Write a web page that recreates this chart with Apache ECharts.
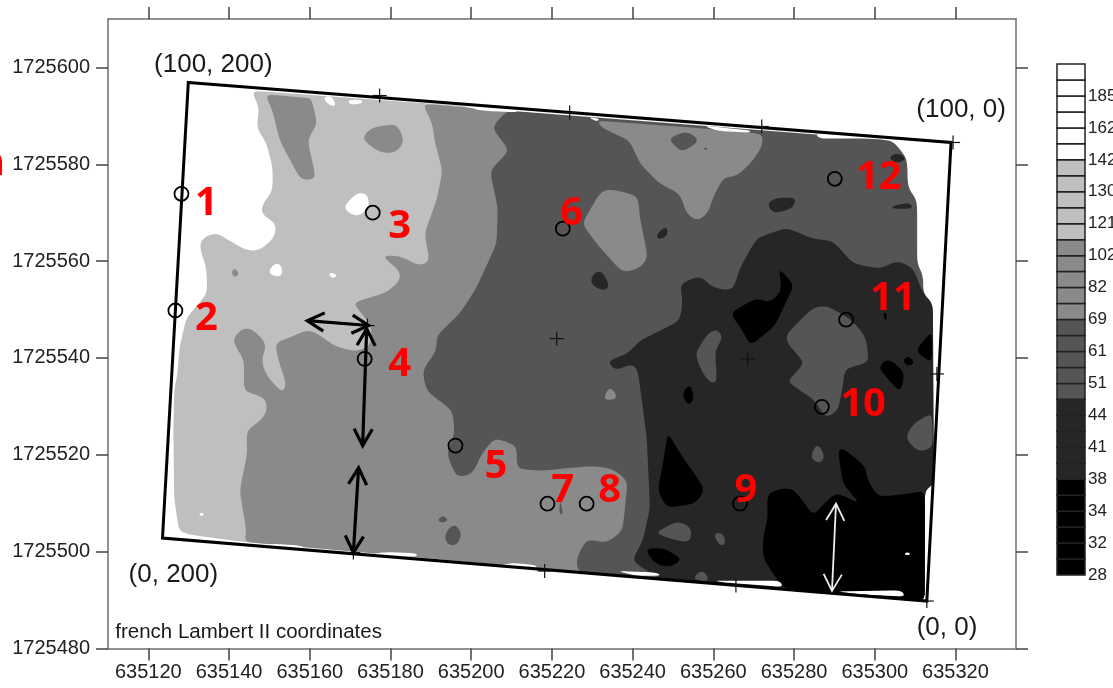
<!DOCTYPE html>
<html><head><meta charset="utf-8">
<style>html,body{margin:0;padding:0;background:#fff;overflow:hidden}#c{width:1113px;height:688px}</style>
<script src="https://cdn.jsdelivr.net/npm/echarts@6/dist/echarts.min.js"></script>
</head><body><div id="c"></div>
<script>
// All point pairs are [easting - 635000, northing - 1725000], in metres (French Lambert II).
const E0 = 635000, N0 = 1725000;
const xTicks = [635120,635140,635160,635180,635200,635220,635240,635260,635280,635300,635320];
const yTicks = [1725480,1725500,1725520,1725540,1725560,1725580,1725600];
const WHITE='#ffffff', LIGHT='#bfbfbf', MID='#8a8a8a', DARK='#555555', DARKER='#262626', BLACK='#000000';

const lightZone=[[145.5,595.2],[147.5,591.7],[146.8,587.6],[149.3,584.3],[150.8,579.3],[150.8,574.5],[148.3,571.8],[148,569.8],[151.7,567.7],[151.2,564.8],[147.5,562.2],[144.3,562.2],[140.1,564.2],[136.9,565.9],[133.4,564.8],[132.7,562.8],[134.4,558.6],[134.6,553.3],[129.4,548.3],[127.7,542.1],[127.2,536.7],[126.4,533.2],[126.2,525],[126.4,511.1],[127.2,506.4],[127.7,504.3],[130.2,503.5],[143.8,502],[157.5,501],[157.5,531.2],[200,551.8],[200,591.9]];
const midZone=[[187.9,592.5],[190.4,588.4],[190.9,584.9],[192.9,578.7],[191.4,572.5],[188.4,565.7],[189.7,560.1],[187.2,559],[182.3,561.1],[177.8,561.1],[182.3,558],[182.3,555.9],[179,553.5],[170.6,551.4],[175.3,546.7],[175.1,542.5],[171.1,541.3],[166.1,542.5],[161.9,545],[159.4,545.8],[155,544.2],[151.3,543.1],[152.5,538.8],[154.2,534.7],[153.2,532.8],[149.3,536.3],[148,539.4],[149.3,542.9],[146.3,545.6],[144.3,546.2],[142.6,545.6],[140.8,543.6],[143.8,539.4],[143.6,533.2],[148.8,531.8],[149.5,529.5],[148.3,527.4],[144.3,525],[144.5,520.2],[142.6,512.6],[144.3,504.3],[143.8,502],[245,494.5],[245,588.5]];
const darkZone=[[208.8,591.1],[205.1,587.6],[209.5,582.8],[204.6,578.7],[206.6,571],[206.3,563.6],[201.3,554.5],[197.1,549.1],[191.4,544.6],[191.4,541.5],[187.9,537.4],[188.9,533.2],[195.4,529.1],[195.9,524.3],[193.9,520.2],[196.4,515.3],[200.4,516.1],[202.6,520.2],[205.8,523.5],[211.3,521.9],[211.3,517.1],[217.7,516.7],[221.9,517.1],[230.1,517.7],[235.1,517.1],[238.8,514.6],[237.5,504.3],[233.6,501.8],[228.6,502.6],[226.1,498.7],[226.4,495.8],[312.4,489.8],[312.4,512.6],[314.4,514],[314.4,551.2],[312,553.3],[312,557],[310.5,559.5],[310.5,572.5],[308.2,575.2],[308,581.2],[304.5,584.9]];
const darkerZone=[[251.7,555.3],[256.7,557],[259.9,554.5],[264.8,553.9],[266.6,558.6],[270.8,564.8],[278.2,566.9],[284.7,564.6],[289.6,564.2],[294.6,559.5],[301.3,558.4],[305.5,560.1],[309.5,558.6],[312,553.3],[314.4,551.2],[314.7,514],[312.4,512.6],[312.4,489.8],[246.7,494.4],[239.8,498.1],[242.5,502.2],[244.3,509],[243.5,523.5],[241.3,537.4],[239.8,538.8],[235.6,537.4],[233.8,539.4],[238.8,540.9],[241.8,543.6],[246.7,545.6],[251.7,547.7],[252.4,551.8]];
const blackZone=[[273.3,511.9],[276.5,513],[279.7,513],[282.2,510.5],[284.7,507.4],[288.1,510.5],[290.6,512.2],[296.3,509.9],[292.1,514],[290.9,520.8],[292.1,521.4],[297.6,517.7],[298.3,514.6],[300.8,511.3],[308.7,512],[312.4,512.6],[312.4,489.8],[277.2,492.5],[272.3,498.7],[272.3,502.8],[273.5,507]];

const midIslands=[
 [[231.1,589],[257.4,587.4],[272.3,586.3],[272,583.4],[269.1,580.1],[265.8,577.6],[262.4,577.2],[259.9,573.1],[258.6,569.8],[255.9,568.3],[253.4,569.8],[251.7,573.9],[246.7,576],[241.8,580.1],[239.3,584.9],[232.6,587.4]],
 [[227.4,567.7],[231.9,574.1],[234.3,574.9],[241.3,573.5],[241.8,569],[243.8,560.7],[241.8,558.6],[237.6,557.6],[231.9,562.8]],
 [[148.9,594.5],[159,593.7],[160.4,593.6],[161.9,588.4],[159.4,585],[161.6,577],[157.8,576.7],[152.5,585],[150.8,591]],
 [[172.8,585.3],[175.3,587.6],[181.5,588.4],[183.5,584.9],[181.5,582.4],[177.3,582.4]],
 [[140.6,557.6],[141.3,558.6],[142.6,557.4],[141.3,556.6]],
 [[234.3,534.3],[236.6,531.6],[232.6,531.2]]
];
const darkIslands=[
 [[248.7,585.3],[253.4,586.9],[256.7,584.9],[252.2,582.4]],
 [[257.6,583.4],[258.6,583.4],[258.1,582.8]],
 [[278.2,545],[284.7,550.4],[288.1,550.8],[293.9,548.1],[297.6,544.6],[298.3,541.5],[298.3,539],[292.6,537.8],[292.1,534.3],[290.9,529.1],[287.7,527.6],[285.2,531.2],[279.7,534.3],[278.5,535.3],[282.7,539],[278.2,543.1]],
 [[255.4,540.9],[258.6,545],[260.9,546],[262.4,544.2],[260.4,541.5],[260.9,535.3],[259.6,534.7],[257.4,536.7]],
 [[307.5,523.5],[309.5,526.4],[314.2,528.7],[314.4,521.4],[310.7,520.6]],
 [[285.7,522.5],[287.7,519.8],[286.4,518.1],[283.9,519.4]],
 [[245.5,503.9],[251.2,506.4],[254.7,504.9],[254.2,501.8],[249.2,502.7]],
 [[259.9,503.7],[262.4,503.9],[263.1,501.6],[261.6,501.2]],
 [[254.7,494.4],[257.1,496.2],[258.6,495],[258.6,493.8]],
 [[301.3,506.4],[304.5,507.4],[307,505.8],[304.5,503.7]],
 [[191.6,506.5],[193,507.5],[194.4,506.5],[192.8,505.9]],
 [[193.4,503.7],[195.8,505.9],[197.8,503.7],[196.3,501.2],[193.9,501.6]],
 [[222,511],[222.8,507.7],[221.8,507.7]]
];
const darkerIslands=[
 [[273.3,571.9],[275.7,573.1],[280.7,573.1],[279.5,570.8],[274.8,569.8]],
 [[303.3,581.4],[305.8,582.4],[308,581.2],[305.5,580.1]],
 [[304.3,571.4],[308.7,572.1],[309.5,570.8],[304.5,570.8]],
 [[246,565.7],[248.5,567.3],[248.7,565.2],[246.2,564.4]],
 [[229.4,556.4],[231.9,558.4],[234.1,555.5],[233.6,553.9],[230.6,554.5]]
];
const blackIslands=[
 [[248.7,524.6],[251.7,520.4],[257.4,513.6],[257.4,512],[255.4,509.9],[248.5,509],[246.2,512.6],[247.5,518.1]],
 [[264.1,549.3],[270.8,552.4],[274,551.4],[277,553.9],[276.2,558.4],[278,557],[280,554.9],[277,549.8],[275.3,546.7],[272.3,544.6],[269.1,542.5],[267.3,545.6]],
 [[252.2,532.6],[254.2,534.7],[255.4,531.6],[253.7,530.1]],
 [[243,500.6],[247.5,500.8],[252.4,498.5],[249.2,496.7],[245.5,497.5]],
 [[300.8,538],[303.3,540],[307.5,537],[306.3,532.8]],
 [[307,539.4],[308.2,540.5],[310,539],[308.2,538.2]],
 [[310,541.5],[314.2,545.6],[314.2,539.4],[313,539.6]],
 [[302,549.3],[303,549.3],[302.8,547.3]]
];
const whiteIslands=[
 [[168.1,571],[171.6,574.1],[174.3,573.9],[174.8,571],[171.6,569]],
 [[149.5,557.4],[151.3,559.7],[153.2,559],[153,556.6]],
 [[164.6,557.4],[165.6,557.6],[166.9,557],[165.6,556.4]],
 [[163.2,593.8],[165.4,594.2],[166.6,592.1],[164.9,592.1]],
 [[169.4,593.3],[173.1,593.3],[172.8,592.5],[169.9,592.3]],
 [[132.7,508],[133.7,508],[133.7,507.4],[132.7,507.4]],
 [[307.5,499.8],[308.7,499.8],[308.7,499.3],[307.5,499.3]]
];
const whiteSlivers=[
 [[199.1,591.9],[211.3,591.2],[211.3,590.7],[202.1,591.1]],
 [[257.4,588],[269.1,587],[269.1,586.5],[260.9,586.9]],
 [[285.2,586.3],[301.3,585.3],[286.4,585.3]],
 [[228.9,589.8],[231.9,589.4],[231.1,588.8]],
 [[152,501.6],[158.2,501.2],[158.2,500.6],[145,501.4]],
 [[175.3,499.5],[178.5,499.9],[186.5,499.7],[186.5,498.9]],
 [[206.3,497],[210,497.7],[216.2,497.2],[216.2,496.4]],
 [[236.1,496],[245.9,495.7],[247.1,495],[241,495]],
 [[260,494],[276.5,494],[277.3,492.7],[263,493.6]],
 [[290.5,491.8],[306.7,492],[307.5,490.7],[296,491.2]]
];

const fieldFrame=[[129.9,596.9],[318.9,584.5],[312.9,489.8],[123.5,502.8]];
const gridCrosses=[[221.2,544],[268.5,539.8],[177.3,594.2],[224.4,590.7],[272,587.8],[319.4,584.5],[315.4,536.7],[174.3,546.7],[170.8,499.8],[218.2,496],[265.6,493],[312.9,489.8]];
const samplePoints=[[128.2,573.9],[126.7,549.8],[175.6,570],[173.6,539.8],[196.1,521.9],[218.9,509.9],[228.6,509.9],[222.7,566.7],[266.6,509.9],[286.9,529.9],[292.9,547.9],[290.1,577]];
const sampleLabels=['1','2','3','4','5','6','7','8','9','10','11','12'];
const sampleLabelPos=[[134.4,571.9],[134.4,548.1],[182.3,567.1],[182.3,538.6],[206.1,517.5],[224.9,569.8],[222.7,512.6],[234.3,512.6],[268.1,512.6],[297.1,530.3],[304.5,552.2],[301,577.2]];
const cornerLabels=['(100, 200)','(100, 0)','(0, 200)','(0, 0)'];
const cornerLabelPos=[[136.1,600.6],[321.4,591.3],[126.2,495.2],[317.9,484.3]];
const blackArrows=[[159.4,547.7,174.6,546.7],[174.1,546,173.1,521.9],[172.1,517.3,170.8,499.8]];
const whiteArrows=[[290.4,509.9,289.4,491.9]];
const clippedMargin=[[84.5,580.1]];

const barLabels=['28','32','34','38','41','44','51','61','69','82','102','121','130','142','162','185'];
const barCounts=[6,5,5,5,5,6];
const barColors=[BLACK,DARKER,DARK,MID,LIGHT,WHITE];

const FONT='"Liberation Sans",Arial,sans-serif';
const regions=[
 {c:LIGHT,p:[lightZone]},{c:MID,p:[midZone]},{c:DARK,p:[darkZone]},
 {c:MID,p:midIslands},{c:DARKER,p:darkerIslands},{c:DARKER,p:[darkerZone]},
 {c:DARK,p:darkIslands},{c:BLACK,p:[blackZone]},{c:BLACK,p:blackIslands},
 {c:WHITE,p:whiteIslands},{c:WHITE,p:whiteSlivers}
].flatMap(r=>r.p.map(p=>({c:r.c,p})));
const toData=p=>[p[0]+E0,p[1]+N0];

// rounds the digitised contour corners on screen, moving each by only a few pixels
function rounded(pts){
  let cur=pts;
  for(let k=0;k<3;k++){
    const out=[];
    cur.forEach((a,i)=>{
      const b=cur[(i+1)%cur.length],dx=b[0]-a[0],dy=b[1]-a[1],d=Math.hypot(dx,dy)||1,c=Math.min(0.25,4/d);
      out.push([a[0]+c*dx,a[1]+c*dy],[b[0]-c*dx,b[1]-c*dy]);
    });
    cur=out;
  }
  return cur;
}

const barCells=[];
barCounts.forEach((n,k)=>{for(let i=0;i<n;i++)barCells.push(barColors[k]);});

function arrowItem(a,color,w,api){
  const s=api.coord(toData([a[0],a[1]])),e=api.coord(toData([a[2],a[3]]));
  const ang=Math.atan2(e[1]-s[1],e[0]-s[0]),L=19,S=0.5;
  const head=(t,d)=>[[t[0]+d*L*Math.cos(ang+S),t[1]+d*L*Math.sin(ang+S)],t,[t[0]+d*L*Math.cos(ang-S),t[1]+d*L*Math.sin(ang-S)]];
  const st={stroke:color,lineWidth:w,fill:null};
  return [{type:'line',shape:{x1:s[0],y1:s[1],x2:e[0],y2:e[1]},style:st},
          {type:'polyline',shape:{points:head(s,1)},style:st},
          {type:'polyline',shape:{points:head(e,-1)},style:st}];
}
const axisStyle={lineStyle:{color:'#6e6e6e',width:1.5}};
const xCommon={type:'value',gridIndex:0,min:635110,max:635335,splitLine:{show:false},axisLine:{onZero:false,...axisStyle},
  axisTick:{length:12,customValues:xTicks,lineStyle:{color:'#444',width:1.5}}};
const yCommon={type:'value',gridIndex:0,min:1725480,max:1725610,splitLine:{show:false},axisLine:{onZero:false,...axisStyle},
  axisTick:{length:12,customValues:yTicks,lineStyle:{color:'#444',width:1.5}}};
const pointLabel={show:true,position:'inside',formatter:'{b}',textBorderWidth:0};

const chart=echarts.init(document.getElementById('c'),null,{renderer:'canvas'});
chart.setOption({
 animation:false,backgroundColor:'#fff',
 grid:[{left:108,top:19,width:908,height:629.5,outerBoundsMode:'none'},{left:1057,top:64,width:28,height:511,outerBoundsMode:'none'}],
 xAxis:[
  {...xCommon,position:'bottom',axisLabel:{customValues:xTicks,formatter:v=>String(v),color:'#222',fontFamily:FONT,fontSize:20,margin:14}},
  {...xCommon,position:'top',axisLabel:{show:false}},
  {type:'value',gridIndex:1,min:0,max:1,show:false}
 ],
 yAxis:[
  {...yCommon,position:'left',axisLabel:{customValues:yTicks,formatter:v=>String(v),color:'#222',fontFamily:FONT,fontSize:20,margin:18}},
  {...yCommon,position:'right',axisLabel:{show:false}},
  {type:'value',gridIndex:1,min:0,max:32,interval:2,position:'right',splitLine:{show:false},axisLine:{show:false},axisTick:{show:false},
   axisLabel:{formatter:v=>barLabels[v/2]||'',color:'#222',fontFamily:FONT,fontSize:17,margin:3}}
 ],
 series:[
  {type:'custom',xAxisIndex:0,yAxisIndex:0,silent:true,z:2,clip:false,data:regions.map((r,i)=>[i]),
   renderItem:(p,api)=>{const r=regions[api.value(0)];
     return {type:'polygon',shape:{points:rounded(r.p.map(q=>api.coord(toData(q))))},style:{fill:r.c}};}},
  {type:'custom',xAxisIndex:0,yAxisIndex:0,silent:true,z:3,clip:false,data:[[0]],
   renderItem:(p,api)=>({type:'polygon',shape:{points:fieldFrame.map(q=>api.coord(toData(q)))},style:{fill:null,stroke:'#000',lineWidth:3}})},
  {type:'custom',xAxisIndex:0,yAxisIndex:0,silent:true,z:3,clip:false,data:gridCrosses.map(toData),
   renderItem:(p,api)=>{const c=api.coord([api.value(0),api.value(1)]),a=7,st={stroke:'#111',lineWidth:1.2};
     return {type:'group',children:[{type:'line',shape:{x1:c[0]-a,y1:c[1],x2:c[0]+a,y2:c[1]},style:st},{type:'line',shape:{x1:c[0],y1:c[1]-a,x2:c[0],y2:c[1]+a},style:st}]};}},
  {type:'custom',xAxisIndex:0,yAxisIndex:0,silent:true,z:4,clip:false,data:blackArrows.map((a,i)=>[i]),
   renderItem:(p,api)=>({type:'group',children:arrowItem(blackArrows[api.value(0)],'#000',3.2,api)})},
  {type:'custom',xAxisIndex:0,yAxisIndex:0,silent:true,z:4,clip:false,data:whiteArrows.map((a,i)=>[i]),
   renderItem:(p,api)=>({type:'group',children:arrowItem(whiteArrows[api.value(0)],'#eee',1.8,api)})},
  {type:'scatter',xAxisIndex:0,yAxisIndex:0,silent:true,z:5,data:samplePoints.map(toData),symbol:'circle',symbolSize:14,
   itemStyle:{color:'transparent',borderColor:'#000',borderWidth:1.8,opacity:1}},
  {type:'scatter',xAxisIndex:0,yAxisIndex:0,silent:true,z:6,symbolSize:0,itemStyle:{opacity:1},
   data:sampleLabels.map((t,i)=>({name:t,value:toData(sampleLabelPos[i])})),
   label:{...pointLabel,color:'#ff0000',fontFamily:'"Open Sans",sans-serif',fontWeight:'bold',fontSize:40}},
  {type:'scatter',xAxisIndex:0,yAxisIndex:0,silent:true,z:6,symbolSize:0,itemStyle:{opacity:1},
   data:cornerLabels.map((t,i)=>({name:t,value:toData(cornerLabelPos[i])})),
   label:{...pointLabel,color:'#1a1a1a',fontFamily:FONT,fontSize:26}},
  {type:'scatter',xAxisIndex:0,yAxisIndex:0,silent:true,z:6,symbolSize:0,itemStyle:{opacity:1},
   data:[{name:'french Lambert II coordinates',value:toData([111.8,483.4])}],
   label:{...pointLabel,position:'right',distance:0,color:'#1a1a1a',fontFamily:FONT,fontSize:20.5}},
  {type:'scatter',xAxisIndex:0,yAxisIndex:0,silent:true,z:6,symbolSize:0,clip:false,itemStyle:{opacity:1},
   data:[{name:'n',value:toData(clippedMargin[0])}],
   label:{...pointLabel,position:'left',distance:0,color:'#ff0000',fontFamily:'"Open Sans",sans-serif',fontWeight:'bold',fontSize:40}},
  {type:'custom',xAxisIndex:2,yAxisIndex:2,silent:true,z:2,clip:false,data:barCells.map((c,i)=>[i]),
   renderItem:(p,api)=>{const i=api.value(0),a=api.coord([0,i]),b=api.coord([1,i+1]);
     return {type:'rect',shape:{x:a[0],y:b[1],width:b[0]-a[0],height:a[1]-b[1]},style:{fill:barCells[i],stroke:'#222',lineWidth:1.5}};}}
 ]
});
</script></body></html>
